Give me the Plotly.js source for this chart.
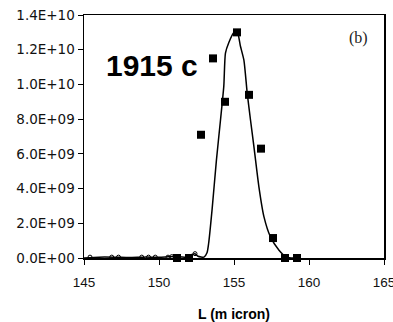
<!DOCTYPE html>
<html>
<head>
<meta charset="utf-8">
<script src="https://cdn.plot.ly/plotly-3.0.1.min.js"></script>
<style>html,body{margin:0;padding:0;background:#fff;}#chart{width:393px;height:322px;}</style>
</head>
<body>
<div id="chart"></div>
<script>
// Measured points (squares)
const squareX = [151.2, 152.0, 152.8, 153.6, 154.4, 155.2, 156.0, 156.8, 157.6, 158.4, 159.2];
const squareY = [0, 0, 7.1e9, 1.15e10, 9.0e9, 1.30e10, 9.4e9, 6.3e9, 1.15e9, 0, 0];

// Fitted curve
const curveX = [145.0, 146.0, 147.0, 148.0, 149.0, 150.0, 151.0, 151.8, 152.2, 152.4, 152.6, 153.0, 153.2,
  153.31, 153.54, 153.83, 154.1, 154.32, 154.43, 154.65, 155.0, 155.2, 155.43, 155.66, 155.88, 156.1,
  156.33, 156.66, 156.99, 157.44, 158.0, 158.5, 159.0];
const curveY = [0, 0.05e9, 0.05e9, 0.03e9, 0.05e9, 0.05e9, 0.08e9, 0.05e9, 0.2e9, 0.25e9, 0.1e9, 0.05e9, 0.3e9,
  0.85e9, 2.8e9, 5.65e9, 7.95e9, 9.9e9, 11.8e9, 12.4e9, 13.0e9, 13.1e9, 12.2e9, 11.4e9, 9.5e9, 7.95e9,
  6.4e9, 4.1e9, 2.4e9, 1.2e9, 0.45e9, 0.05e9, 0];

// Small open circles along baseline
const circleX = [145.4, 146.85, 147.3, 148.85, 149.3, 149.75, 150.6, 150.85, 152.4];
const circleY = [0.05e9, 0.05e9, 0.05e9, 0.05e9, 0.05e9, 0.05e9, 0.05e9, 0.08e9, 0.25e9];

const xTicks = [145, 150, 155, 160, 165];
const yTickVals = [0, 2e9, 4e9, 6e9, 8e9, 1e10, 1.2e10, 1.4e10];
const yTickText = ["0.0E+00", "2.0E+09", "4.0E+09", "6.0E+09", "8.0E+09", "1.0E+10", "1.2E+10", "1.4E+10"];

const xTitle = "L (m icron)";
const labelText = "1915 c";
const panelText = "(b)";

const traces = [
  {x: curveX, y: curveY, mode: 'lines', line: {color: '#000', width: 1.5, shape: 'spline', smoothing: 0.6},
   cliponaxis: false, hoverinfo: 'skip'},
  {x: circleX, y: circleY, mode: 'markers', marker: {symbol: 'circle-open', size: 4, color: '#000', line: {width: 1}},
   cliponaxis: false},
  {x: squareX, y: squareY, mode: 'markers', marker: {symbol: 'square', size: 8, color: '#000'},
   cliponaxis: false}
];

const layout = {
  width: 393, height: 322,
  margin: {l: 84, r: 9, t: 15, b: 64},
  paper_bgcolor: '#fff', plot_bgcolor: '#fff',
  showlegend: false,
  font: {family: 'Liberation Sans, Arial, sans-serif', color: '#000'},
  xaxis: {
    range: [145, 165], tickvals: xTicks, ticktext: xTicks.map(String),
    showgrid: false, zeroline: false, showline: true, linecolor: '#000', linewidth: 1.5, mirror: true,
    ticks: 'outside', ticklen: 5, tickcolor: '#000', tickfont: {size: 13.5, color: '#111'},
    ticklabeloverflow: 'allow', ticklabelstandoff: 6,
    title: {text: xTitle, font: {size: 14, family: 'Liberation Sans, Arial, sans-serif', weight: 'bold'}, standoff: 20}
  },
  yaxis: {
    range: [0, 1.4e10], tickvals: yTickVals, ticktext: yTickText,
    showgrid: false, zeroline: false, showline: true, linecolor: '#000', linewidth: 1.5, mirror: true,
    ticks: 'outside', ticklen: 5, tickcolor: '#000',
    tickfont: {size: 13.5, color: '#111', family: 'DejaVu Sans, sans-serif'}
  },
  annotations: [
    {x: 149.5, y: 1.11e10, xref: 'x', yref: 'y', text: labelText, showarrow: false,
     font: {size: 30, family: 'Liberation Sans, Arial, sans-serif', weight: 'bold', color: '#000'}},
    {x: 163.3, y: 1.27e10, xref: 'x', yref: 'y', text: panelText, showarrow: false,
     font: {size: 16, family: 'Liberation Serif, Times New Roman, serif', color: '#222'}}
  ]
};

Plotly.newPlot('chart', traces, layout, {staticPlot: true, displayModeBar: false});
</script>
</body>
</html>
